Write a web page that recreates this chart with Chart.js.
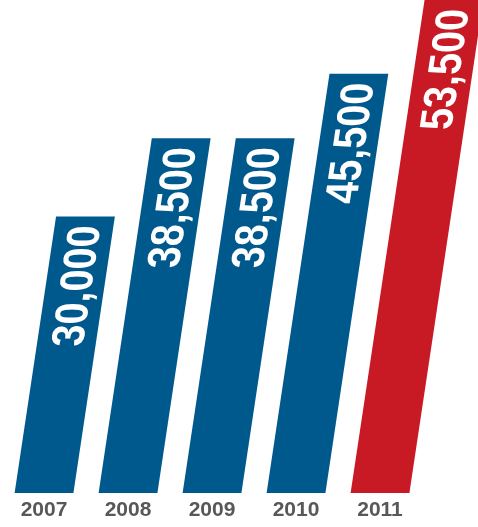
<!DOCTYPE html>
<html>
<head>
<meta charset="utf-8">
<script src="https://cdn.jsdelivr.net/npm/chart.js@4"></script>
<style>
  html, body { margin: 0; padding: 0; background: #fff; }
  #wrap { width: 478px; height: 527px; }
</style>
</head>
<body>
<div id="wrap"><canvas id="myChart"></canvas></div>
<script>
const years = ['2007', '2008', '2009', '2010', '2011'];
const amounts = [30000, 38500, 38500, 45500, 53500];
const barColors = ['#00598c', '#00598c', '#00598c', '#00598c', '#c81a25'];

const FONT = '"Liberation Sans", Arial, sans-serif';
const SLANT = 0.15; // horizontal shift per pixel of height

// lean every bar to the right, and write its value along it
const slantBars = {
  id: 'slantBars',
  beforeDatasetsDraw(chart) {
    const ctx = chart.ctx;
    const base = chart.scales.y.getPixelForValue(0);
    ctx.save();
    ctx.transform(1, 0, -SLANT, 1, SLANT * base, 0);
  },
  afterDatasetsDraw(chart) {
    const ctx = chart.ctx;
    const meta = chart.getDatasetMeta(0);
    ctx.font = 'bold 46px ' + FONT;
    ctx.fillStyle = '#fff';
    ctx.textAlign = 'right';
    ctx.textBaseline = 'alphabetic';
    meta.data.forEach((bar, i) => {
      ctx.save();
      ctx.translate(bar.x, bar.y + 9);
      ctx.rotate(-Math.PI / 2);
      ctx.scale(0.86, 1); // condensed look
      ctx.fillText(amounts[i].toLocaleString('en-US'), 0, 16.5);
      ctx.restore();
    });
    ctx.restore();
  }
};

new Chart(document.getElementById('myChart'), {
  type: 'bar',
  data: {
    labels: years,
    datasets: [{
      data: amounts,
      backgroundColor: barColors,
      borderWidth: 0,
      barPercentage: 0.7,
      categoryPercentage: 1,
      clip: false
    }]
  },
  options: {
    responsive: true,
    maintainAspectRatio: false,
    animation: false,
    layout: { padding: { left: 2, right: 56, top: 0, bottom: -1 } },
    plugins: {
      legend: { display: false },
      tooltip: { enabled: false }
    },
    scales: {
      x: {
        grid: { display: false, drawTicks: false },
        border: { display: false },
        ticks: {
          color: '#58585a',
          font: { family: FONT, size: 21, weight: 'bold', lineHeight: 1 },
          padding: 7,
          maxRotation: 0,
          autoSkip: false
        }
      },
      y: {
        display: false,
        min: 0,
        max: 53500
      }
    }
  },
  plugins: [slantBars]
});
</script>
</body>
</html>
